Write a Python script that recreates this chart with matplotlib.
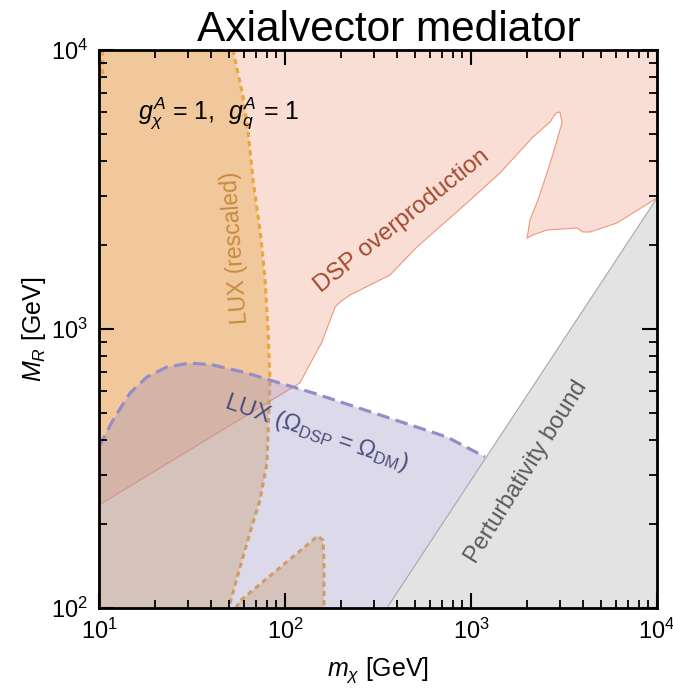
import numpy as np
import matplotlib
matplotlib.use('Agg')
import matplotlib.pyplot as plt

plt.rcParams['font.family'] = ['Liberation Sans', 'DejaVu Sans']
plt.rcParams['mathtext.fontset'] = 'custom'
plt.rcParams['mathtext.rm'] = 'Liberation Sans'
plt.rcParams['mathtext.it'] = 'Liberation Sans:italic'
plt.rcParams['mathtext.bf'] = 'Liberation Sans:bold'

# DSP overproduction boundary (region above it is excluded), left edge -> right edge
dsp_x = [10, 120, 158, 175, 186, 198, 224, 286, 367, 512, 951, 1432, 2154, 2659, 2864,
         3009, 3085, 2830, 2564, 2291, 2075, 2024, 2000, 2154, 2564, 3715, 4000, 4365,
         6095, 10000]
dsp_y = [234, 640, 898, 1077, 1199, 1250, 1324, 1437, 1562, 1967, 2830, 3625, 4877, 5520,
         5945, 5995, 5475, 4490, 3625, 2900, 2459, 2208, 2118, 2173, 2264, 2301, 2227,
         2227, 2399, 2948]

# LUX (rescaled), main contour from top to bottom
luxr_x = [52.5, 59.5, 63.2, 67.3, 73.4, 78.0, 81.1, 83.0, 80.0, 73.4, 64.8, 57.3, 51.0, 50.5]
luxr_y = [10000, 6789, 5168, 3420, 2264, 1536, 992, 656, 331, 244, 186, 140, 106, 100]
# LUX (rescaled), small island near the bottom
luxr2_x = [54.5, 57.3, 150, 160, 162, 162]
luxr2_y = [100, 106, 181, 175, 148, 100]
# LUX (rescaled), piece at the top left corner
luxr3_x = [10.4, 10.4]
luxr3_y = [10000, 7950]

# LUX (Omega_DSP = Omega_DM)
lux_x = [10, 11.9, 14.7, 18.1, 23.2, 30.9, 41.0, 62.5, 83.0, 141.5, 324, 743, 1189]
lux_y = [378, 472, 590, 673, 731, 755, 743, 695, 656, 590, 492, 410, 348]

# perturbativity bound
pert_x = [353, 10000]
pert_y = [100, 2948]

fig = plt.figure(figsize=(6.73, 6.89), dpi=100)
ax = fig.add_axes([99 / 673, 1 - 608 / 689, 558 / 673, 558 / 689])
ax.set_xscale('log')
ax.set_yscale('log')

# DSP overproduction
pink = ax.fill(dsp_x + [10000, 10], dsp_y + [10000, 10000], color='#f9ded6', lw=0, zorder=1)[0]

# LUX rescaled regions
ax.fill(luxr_x + [10, 10], luxr_y + [100, 10000], color='#f3ddba', lw=0, zorder=2)
ax.fill(luxr2_x, luxr2_y, color='#f3ddba', lw=0, zorder=2)
op = ax.fill(luxr_x + [10, 10], luxr_y + [100, 10000], color='#f1c89b', lw=0, zorder=2.1)[0]
op.set_clip_path(pink)

ax.plot(dsp_x, dsp_y, color='#f0967c', lw=0.8, zorder=2.2)

dot = dict(color='#eca63f', lw=2.3, ls=(0, (1.6, 1.3)), zorder=2.5, dash_capstyle='butt')
ax.plot(luxr_x, luxr_y, **dot)
ax.plot(luxr2_x, luxr2_y, **dot)
ax.plot(luxr3_x, luxr3_y, **dot)

# LUX (Omega_DSP = Omega_DM)
ax.fill(lux_x + [1400, 1400, 10], lux_y + [348, 100, 100], color='#958bc0', alpha=0.32,
        lw=0, zorder=3)

# perturbativity
ax.fill(pert_x + [10000], pert_y + [100], color='#e3e3e3', lw=0, zorder=4)
ax.plot(pert_x, pert_y, color='#a8a8a8', lw=0.8, zorder=4.1)

ax.plot(lux_x, lux_y, color='#968cc8', lw=2.3, ls=(0, (4, 2)), zorder=5)

# labels
ax.text(44.2, 5945, r'$g_\chi^A$ = 1,  $g_q^A$ = 1', fontsize=18, ha='center', va='center',
        zorder=6)
ax.text(53.8, 1950, 'LUX (rescaled)', fontsize=16.5, color='#c98a3e', rotation=94,
        ha='center', va='center', zorder=6)
ax.text(425, 2440, 'DSP overproduction', fontsize=17.5, color='#a24a2e', rotation=38.5,
        ha='center', va='center', zorder=6)
ax.text(148, 424, r'LUX ($\Omega_{\mathrm{DSP}}$ = $\Omega_{\mathrm{DM}}$)', fontsize=17,
        color='#4c4c7c', rotation=-19, ha='center', va='center', zorder=6)
ax.text(1977, 307, 'Perturbativity bound', fontsize=17, color='#5a5a5a', rotation=58,
        ha='center', va='center', zorder=6)

ax.set_xlim(10, 1e4)
ax.set_ylim(100, 1e4)
ax.set_xlabel(r'$m_\chi$ [GeV]', fontsize=18, labelpad=8)
ax.set_ylabel(r'$M_R$ [GeV]', fontsize=18, labelpad=2)
ax.set_title('Axialvector mediator', fontsize=30.5, pad=5, x=0.52)

ax.tick_params(which='both', direction='in', top=True, right=True, labelsize=17)
ax.tick_params(which='major', length=11, width=1.5, pad=8)
ax.tick_params(which='minor', length=6, width=1.3)
ax.xaxis.set_zorder(20)
ax.yaxis.set_zorder(20)
for s in ax.spines.values():
    s.set_linewidth(2)
    s.set_zorder(21)

fig.savefig('out.png', dpi=100)
